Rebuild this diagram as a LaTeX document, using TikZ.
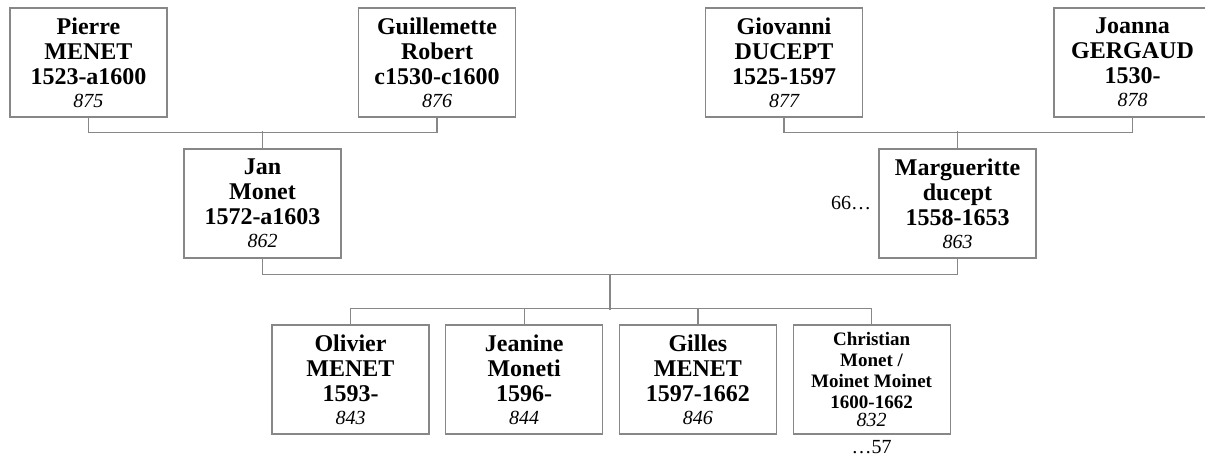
\documentclass[tikz,border=0pt]{standalone}
\usepackage{fontspec}
\setmainfont{Liberation Serif}
\usepackage{tikz}
\usetikzlibrary{positioning,calc}
\definecolor{trait}{RGB}{135,135,135}
\tikzset{
  fiche/.style={draw=trait,line width=1.2pt,fill=white,minimum width=157pt,minimum height=109pt,
                inner sep=0pt,align=center,font=\fontsize{24}{25}\selectfont\bfseries},
  fichepetite/.style={fiche,font=\fontsize{19}{21}\selectfont\bfseries},
  lien/.style={trait,line width=1.2pt},
  renvoi/.style={font=\fontsize{20}{22}\selectfont,inner sep=0pt}
}
\newcommand{\numsosa}[1]{{\normalfont\itshape\fontsize{20}{20}\selectfont #1}}

\begin{document}
\begin{tikzpicture}[x=1pt,y=-1pt]
      \useasboundingbox (0,0) rectangle (1205,464);
      % grands-parents
      \node[fiche] (pierre) at (88.5,62.5) {Pierre\\MENET\\1523-a1600\\[-2pt]\numsosa{875}};
      \node[fiche] (guil) at (437,62.5) {Guillemette\\Robert\\c1530-c1600\\[-2pt]\numsosa{876}};
      \node[fiche] (giovanni) at (784,62.5) {Giovanni\\DUCEPT\\1525-1597\\[-2pt]\numsosa{877}};
      \node[fiche] (joanna) at (1132.5,62.5) {Joanna\\GERGAUD\\1530-\\[-2pt]\numsosa{878}};
      % parents
      \node[fiche] (jan) at (262.5,203.5) {Jan\\Monet\\1572-a1603\\[-2pt]\numsosa{862}};
      \node[fiche] (marg) at (957.5,203.5) {Margueritte\\ducept\\1558-1653\\[-2pt]\numsosa{863}};
      \node[renvoi,left=7pt of marg] (renvoimarg) {66\ldots};
      % enfants
      \node[fiche] (olivier) at (350.5,379.5) {Olivier\\MENET\\1593-\\[-2pt]\numsosa{843}};
      \node[fiche,right=15.5pt of olivier] (jeanine) {Jeanine\\Moneti\\1596-\\[-2pt]\numsosa{844}};
      \node[fiche,right=15.5pt of jeanine] (gilles) {Gilles\\MENET\\1597-1662\\[-2pt]\numsosa{846}};
      \node[fichepetite,right=15.5pt of gilles] (christian) {Christian\\Monet /\\Moinet Moinet\\1600-1662\\[-3pt]\numsosa{832}};
      \node[renvoi,below=6pt of christian] (renvoichr) {\ldots57};
      % liens
      \draw[lien] (pierre.south) -- ++(0,15) -| (guil.south);
      \draw[lien] (jan.north) -- ++(0,-17);
      \draw[lien] (giovanni.south) -- ++(0,15) -| (joanna.south);
      \draw[lien] (marg.north) -- ++(0,-17);
      \draw[lien] (jan.south) -- ++(0,16) -| (marg.south);
      \draw[lien] ($(jan.south)!.5!(marg.south)$) ++(0,16) -- ++(0,35);
      \draw[lien] (olivier.north) -- ++(0,-16) -| (christian.north);
      \foreach \e in {jeanine,gilles}{\draw[lien] (\e.north) -- ++(0,-16);}
    \end{tikzpicture}
\end{document}
